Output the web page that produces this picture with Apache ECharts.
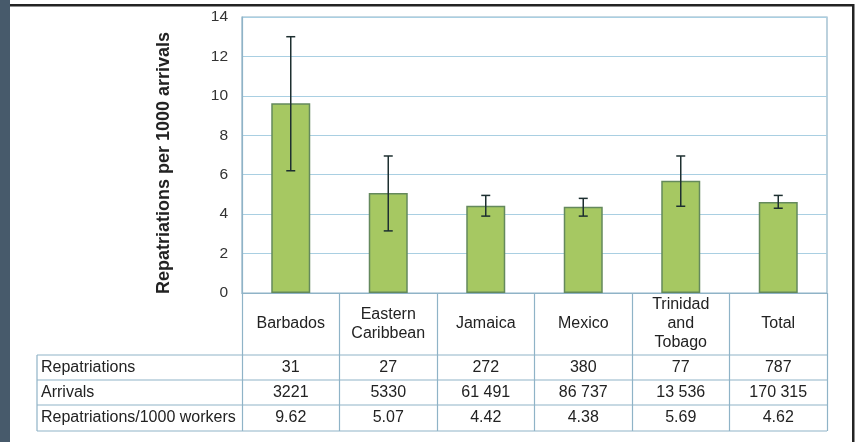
<!DOCTYPE html>
<html>
<head>
<meta charset="utf-8">
<script src="https://cdn.jsdelivr.net/npm/echarts@6/dist/echarts.min.js"></script>
<style>
  html, body { margin: 0; padding: 0; background: #fff; }
  #chart { width: 856px; height: 442px; }
</style>
</head>
<body>
<div id="chart"></div>
<script>
// Seasonal worker repatriations per 1000 arrivals, by country of origin
const categories = ['Barbados', 'Eastern\nCaribbean', 'Jamaica', 'Mexico', 'Trinidad\nand\nTobago', 'Total'];
const rates = [9.62, 5.07, 4.42, 4.38, 5.69, 4.62];
const ciLow = [6.2, 3.15, 3.9, 3.9, 4.4, 4.3];
const ciHigh = [13.0, 6.95, 4.95, 4.8, 6.95, 4.95];
const repatriations = ['31', '27', '272', '380', '77', '787'];
const arrivals = ['3221', '5330', '61 491', '86 737', '13 536', '170 315'];
const rateLabels = rates.map(v => v.toFixed(2));
const rowNames = ['Repatriations', 'Arrivals', 'Repatriations/1000 workers'];
const yTicks = { min: 0, max: 14, interval: 2 };

const W = 856, H = 442;
const G = { left: 242, right: 29, top: 17, bottom: 149 };
const plotRight = W - G.right;
const plotBottom = H - G.bottom;
const headerH = 62;
const rowH = [25, 25, 26];
const tableLeft = 37;
const lineColor = '#8fb3c7';
const textColor = '#222';
const font = 'Liberation Sans, Arial, sans-serif';
const tableFont = 16;

// row boundaries of the data table under the header
const rowTops = [plotBottom + headerH];
rowH.forEach((h, i) => rowTops.push(rowTops[i] + h));
const tableBottom = rowTops[rowTops.length - 1];

function rowAxis(data, i) {
  return {
    type: 'category',
    gridIndex: 0,
    position: 'bottom',
    data: data,
    axisLine: { show: false },
    axisTick: { show: false },
    axisLabel: {
      interval: 0,
      margin: rowTops[i] + rowH[i] / 2 - plotBottom,
      verticalAlign: 'middle',
      fontSize: tableFont,
      fontFamily: font,
      color: textColor
    }
  };
}

const graphics = [
  { type: 'rect', shape: { x: 0, y: 0, width: 10, height: H }, style: { fill: '#475a6b' }, silent: true },
  { type: 'rect', shape: { x: 10, y: 4, width: 844, height: 2.5 }, style: { fill: '#232323' }, silent: true },
  { type: 'rect', shape: { x: 852, y: 4, width: 2.5, height: H - 4 }, style: { fill: '#232323' }, silent: true },
  { type: 'line', shape: { x1: tableLeft, y1: rowTops[0], x2: tableLeft, y2: tableBottom },
    style: { stroke: lineColor, lineWidth: 1.2 }, silent: true }
];
rowTops.forEach(y => {
  graphics.push({ type: 'line', shape: { x1: tableLeft, y1: y, x2: plotRight, y2: y },
    style: { stroke: lineColor, lineWidth: 1.2 }, silent: true });
});
rowNames.forEach((name, i) => {
  graphics.push({ type: 'text', x: tableLeft + 4, y: rowTops[i] + rowH[i] / 2,
    style: { text: name, fontSize: tableFont, fontFamily: font, fill: textColor, verticalAlign: 'middle', align: 'left' },
    silent: true });
});

const chart = echarts.init(document.getElementById('chart'), null, { renderer: 'canvas' });
chart.setOption({
  backgroundColor: '#fff',
  animation: false,
  grid: Object.assign({ show: true, borderColor: lineColor, borderWidth: 1.2, containLabel: false }, G),
  xAxis: [
    {
      type: 'category',
      data: categories,
      axisLine: { lineStyle: { color: lineColor, width: 1.2 } },
      axisTick: { show: true, interval: 0, length: tableBottom - plotBottom, lineStyle: { color: lineColor, width: 1.2 } },
      axisLabel: {
        interval: 0,
        margin: headerH / 2,
        verticalAlign: 'middle',
        lineHeight: 19,
        fontSize: tableFont,
        fontFamily: font,
        color: textColor
      }
    },
    rowAxis(repatriations, 0),
    rowAxis(arrivals, 1),
    rowAxis(rateLabels, 2)
  ],
  yAxis: {
    type: 'value',
    min: yTicks.min,
    max: yTicks.max,
    interval: yTicks.interval,
    name: 'Repatriations per 1000 arrivals',
    nameLocation: 'middle',
    nameGap: 69,
    nameTextStyle: { fontSize: 18, fontWeight: 'bold', fontFamily: font, color: textColor, padding: [0, 16, 0, 0] },
    axisLine: { show: true, lineStyle: { color: lineColor, width: 1.2 } },
    axisTick: { show: false },
    axisLabel: { margin: 14, fontSize: 15.5, fontFamily: font, color: '#333' },
    splitLine: { lineStyle: { color: '#a9cfe2', width: 1.2 } }
  },
  series: [
    {
      type: 'bar',
      data: rates,
      barWidth: '40%',
      itemStyle: { color: '#a6c862', borderColor: '#64895c', borderWidth: 1.5 }
    },
    {
      type: 'custom',
      data: ciLow.map((lo, i) => [i, lo, ciHigh[i]]),
      encode: { x: 0, y: [1, 2] },
      z: 5,
      renderItem: function (params, api) {
        const x = api.value(0);
        const lo = api.coord([x, api.value(1)]);
        const hi = api.coord([x, api.value(2)]);
        const cap = 4.5;
        const style = { stroke: '#1d2f30', lineWidth: 1.5 };
        return {
          type: 'group',
          children: [
            { type: 'line', shape: { x1: lo[0], y1: lo[1], x2: hi[0], y2: hi[1] }, style: style },
            { type: 'line', shape: { x1: hi[0] - cap, y1: hi[1], x2: hi[0] + cap, y2: hi[1] }, style: style },
            { type: 'line', shape: { x1: lo[0] - cap, y1: lo[1], x2: lo[0] + cap, y2: lo[1] }, style: style }
          ]
        };
      }
    }
  ],
  graphic: graphics
});
</script>
</body>
</html>
